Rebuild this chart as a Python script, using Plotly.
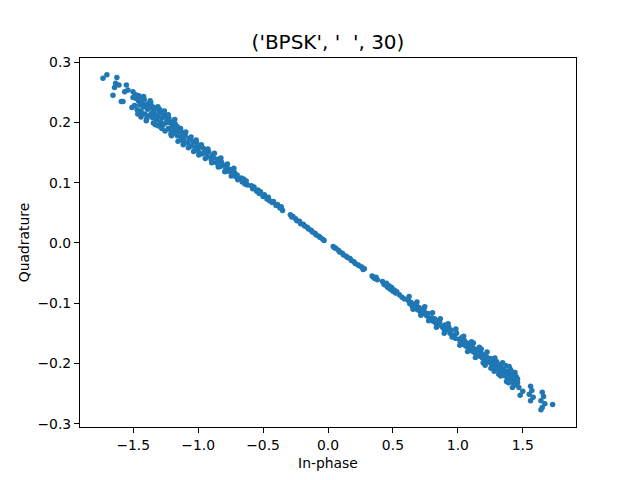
import plotly.graph_objects as go

# constellation samples
in_phase = [
    # left tail
    -1.733, -1.703, -1.626, -1.636, -1.644, -1.656, -1.61, -1.553, -1.566, -1.541,
    -1.579, -1.592, -1.502, -1.502, -1.51, -1.451, -1.425, -1.445, -1.438,
    # dense band, left
    -1.49, -1.48, -1.47, -1.46, -1.45, -1.44, -1.43, -1.42, -1.41, -1.40,
    -1.39, -1.38, -1.37, -1.36, -1.35, -1.34, -1.33, -1.32, -1.31, -1.30,
    -1.29, -1.28, -1.27, -1.26, -1.25, -1.24, -1.23, -1.22, -1.21, -1.20,
    -1.19, -1.18, -1.17, -1.16, -1.15,
    -1.13, -1.12, -1.11, -1.10, -1.08, -1.07, -1.05, -1.04, -1.02, -1.01,
    -1.00, -0.99, -0.97, -0.96, -0.95, -0.93, -0.92, -0.90, -0.89, -0.88,
    -0.86, -0.85, -0.83, -0.82, -0.81, -0.79, -0.78, -0.77, -0.75, -0.74,
    -0.72, -0.71, -0.70,
    -1.485, -1.465, -1.455, -1.435, -1.415, -1.395, -1.385, -1.365, -1.345, -1.325,
    -1.305, -1.295, -1.275, -1.255, -1.245, -1.225, -1.205, -1.195, -1.175, -1.155,
    -1.135, -1.115, -1.095, -1.075, -1.055, -1.035, -1.015, -0.995, -0.975, -0.945,
    -0.925, -0.895, -0.875, -0.845, -0.825, -0.795, -0.775, -0.745, -0.725, -0.695,
    -1.47, -1.44, -1.42, -1.40, -1.37, -1.35, -1.33, -1.31, -1.28, -1.26,
    -1.23, -1.21, -1.18, -1.16, -1.12,
    -0.67, -0.66, -0.65, -0.64, -0.63, -0.62, -0.59, -0.58, -0.57, -0.55,
    -0.54, -0.53, -0.52, -0.50, -0.49, -0.47, -0.46, -0.45, -0.43, -0.42,
    -0.40, -0.39, -0.37, -0.36, -0.35,
    # centre
    -0.29, -0.28, -0.27, -0.25, -0.24, -0.22, -0.21, -0.19, -0.18, -0.16,
    -0.15, -0.13, -0.12, -0.10, -0.09, -0.07, -0.06, -0.04, -0.03,
    0.04, 0.05, 0.06, 0.08, 0.09, 0.11, 0.12, 0.14, 0.15, 0.17,
    0.18, 0.20, 0.21, 0.23, 0.24, 0.26, 0.27, 0.28,
    0.34, 0.35, 0.36, 0.37, 0.38, 0.42, 0.43, 0.44, 0.45, 0.46,
    0.47, 0.48, 0.49, 0.50, 0.51, 0.52, 0.53, 0.55, 0.57, 0.59,
    # dense band, right
    0.62, 0.63, 0.64, 0.65, 0.66, 0.67, 0.68, 0.69, 0.70, 0.71,
    0.72, 0.73, 0.74, 0.76, 0.77, 0.78, 0.80, 0.81, 0.82, 0.83,
    0.84, 0.85, 0.86, 0.88, 0.89, 0.90, 0.91, 0.93, 0.94, 0.95,
    0.97, 0.98, 0.99,
    1.01, 1.02, 1.03, 1.04, 1.05, 1.06, 1.07, 1.08, 1.09, 1.10,
    1.11, 1.12, 1.13, 1.14, 1.15, 1.17, 1.18, 1.19, 1.20, 1.21,
    1.22, 1.24, 1.25, 1.26, 1.27, 1.28, 1.29, 1.30, 1.31, 1.32,
    1.33, 1.34, 1.35, 1.36, 1.37, 1.38, 1.39, 1.40, 1.41, 1.42,
    1.43, 1.44, 1.45,
    0.625, 0.655, 0.685, 0.715, 0.745, 0.775, 0.805, 0.835, 0.865, 0.895,
    0.925, 0.955, 0.985, 1.015, 1.045, 1.075, 1.105, 1.135, 1.165, 1.195,
    1.225, 1.255, 1.285, 1.315, 1.345, 1.375, 1.405, 1.435, 1.415, 1.395,
    1.18, 1.21, 1.23, 1.26, 1.28, 1.30, 1.33, 1.35, 1.37, 1.39,
    1.42, 1.44, 1.46, 1.46, 1.12,
    # right tail
    1.47, 1.50, 1.48, 1.56, 1.57, 1.55, 1.58, 1.56, 1.65, 1.66,
    1.64, 1.67, 1.65, 1.64, 1.73,
]
quadrature = [
    0.2735, 0.279, 0.2746, 0.265, 0.258, 0.245, 0.262, 0.262, 0.251, 0.254,
    0.235, 0.235, 0.251, 0.2415, 0.225, 0.235, 0.2375, 0.218, 0.213,
    0.228, 0.240, 0.221, 0.236, 0.229, 0.219, 0.232, 0.226, 0.214, 0.229,
    0.222, 0.211, 0.224, 0.215, 0.208, 0.220, 0.213, 0.204, 0.210, 0.218,
    0.200, 0.207, 0.196, 0.212, 0.199, 0.205, 0.190, 0.200, 0.187, 0.195,
    0.182, 0.191, 0.186, 0.178, 0.184,
    0.176, 0.183, 0.170, 0.178, 0.166, 0.173, 0.161, 0.168, 0.158, 0.165,
    0.153, 0.160, 0.148, 0.157, 0.150, 0.144, 0.152, 0.139, 0.146, 0.141,
    0.133, 0.139, 0.127, 0.134, 0.129, 0.121, 0.127, 0.119, 0.122, 0.114,
    0.117, 0.110, 0.113,
    0.246, 0.214, 0.244, 0.241, 0.238, 0.207, 0.231, 0.233, 0.199, 0.224,
    0.194, 0.221, 0.215, 0.186, 0.209, 0.207, 0.178, 0.201, 0.197, 0.169,
    0.190, 0.163, 0.184, 0.158, 0.176, 0.152, 0.171, 0.146, 0.163, 0.140,
    0.156, 0.133, 0.149, 0.126, 0.141, 0.118, 0.131, 0.111, 0.124, 0.105,
    0.245, 0.209, 0.243, 0.203, 0.236, 0.226, 0.196, 0.226, 0.190, 0.219,
    0.213, 0.181, 0.205, 0.193, 0.170,
    0.108, 0.101, 0.106, 0.098, 0.103, 0.096, 0.095, 0.090, 0.093, 0.086,
    0.088, 0.082, 0.085, 0.077, 0.080, 0.073, 0.076, 0.070, 0.067, 0.069,
    0.062, 0.064, 0.058, 0.060, 0.054,
    0.047, 0.043, 0.044, 0.040, 0.037, 0.036, 0.032, 0.031, 0.028, 0.026,
    0.023, 0.021, 0.018, 0.016, 0.013, 0.011, 0.009, 0.006, 0.004,
    -0.006, -0.008, -0.009, -0.012, -0.015, -0.017, -0.020, -0.022, -0.024, -0.026,
    -0.029, -0.031, -0.034, -0.036, -0.038, -0.040, -0.044, -0.043,
    -0.055, -0.057, -0.059, -0.057, -0.061, -0.064, -0.068, -0.070, -0.067, -0.074,
    -0.071, -0.077, -0.074, -0.080, -0.078, -0.083, -0.081, -0.086, -0.090, -0.093,
    -0.096, -0.101, -0.099, -0.105, -0.102, -0.108, -0.104, -0.111, -0.107, -0.114,
    -0.110, -0.117, -0.113, -0.121, -0.117, -0.125, -0.124, -0.130, -0.126, -0.133,
    -0.129, -0.136, -0.132, -0.139, -0.142, -0.136, -0.145, -0.140, -0.150, -0.145,
    -0.153, -0.158, -0.150,
    -0.160, -0.165, -0.157, -0.168, -0.162, -0.171, -0.166, -0.174, -0.169, -0.178,
    -0.172, -0.181, -0.176, -0.184, -0.179, -0.188, -0.183, -0.191, -0.186, -0.195,
    -0.189, -0.198, -0.192, -0.201, -0.196, -0.206, -0.199, -0.209, -0.202, -0.212,
    -0.206, -0.216, -0.210, -0.220, -0.213, -0.224, -0.217, -0.227, -0.220, -0.214,
    -0.224, -0.230, -0.222,
    -0.089, -0.110, -0.098, -0.120, -0.106, -0.129, -0.116, -0.140, -0.126, -0.150,
    -0.134, -0.156, -0.143, -0.170, -0.155, -0.180, -0.164, -0.190, -0.173, -0.199,
    -0.181, -0.208, -0.191, -0.218, -0.199, -0.230, -0.210, -0.236, -0.231, -0.205,
    -0.176, -0.203, -0.196, -0.193, -0.213, -0.197, -0.221, -0.218, -0.204, -0.232,
    -0.240, -0.215, -0.232, -0.226, -0.166,
    -0.240, -0.246, -0.253, -0.238, -0.245, -0.251, -0.256, -0.262, -0.248, -0.255,
    -0.262, -0.267, -0.273, -0.277, -0.268,
]

title_text = "('BPSK', '  ', 30)"
x_ticks = [-1.5, -1.0, -0.5, 0.0, 0.5, 1.0, 1.5]
y_ticks = [-0.3, -0.2, -0.1, 0.0, 0.1, 0.2, 0.3]

fig = go.Figure(go.Scatter(
    x=in_phase, y=quadrature, mode='markers',
    marker=dict(color='#1f77b4', size=5.5, line=dict(width=0)),
))

axis_style = dict(
    showgrid=False, zeroline=False, showline=True, mirror=True,
    linecolor='black', linewidth=1.1, ticks='outside', ticklen=5,
    tickwidth=1.1, tickcolor='black', tickformat='.1f', automargin=False,
    tickfont=dict(size=13.9, color='black'),
)

# page body has an 8px margin, so the figure is 8px smaller and shifted
fig.update_layout(
    width=632, height=472,
    margin=dict(l=72, r=64, t=50, b=53),
    plot_bgcolor='white', paper_bgcolor='white',
    font=dict(family='DejaVu Sans', color='black'),
    showlegend=False,
    title=dict(text=title_text, x=0.5, xref='paper', xanchor='center',
               y=1, yref='paper', yanchor='bottom', pad=dict(b=9),
               font=dict(size=20, color='black')),
    xaxis=dict(axis_style, range=[-1.91, 1.91], tickvals=x_ticks,
               title=dict(text='In-phase', font=dict(size=13.9), standoff=6)),
    yaxis=dict(axis_style, range=[-0.3055, 0.307], tickvals=y_ticks,
               title=dict(text='Quadrature', font=dict(size=13.9), standoff=4)),
)

fig.write_html("out.html")
